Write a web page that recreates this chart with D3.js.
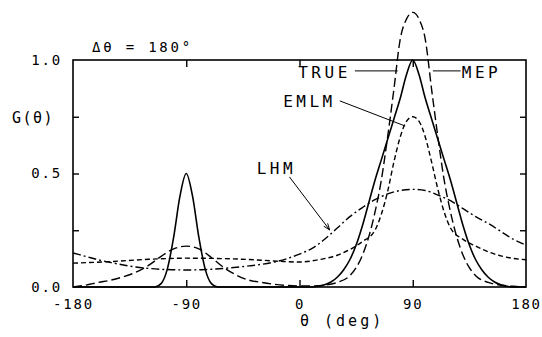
<!DOCTYPE html>
<html><head><meta charset="utf-8">
<script src="https://cdn.jsdelivr.net/npm/d3@7/dist/d3.min.js"></script>
<style>body{margin:0;background:#fff;}svg{display:block;}</style>
</head><body>
<svg id="chart" width="542" height="337"></svg>
<script>
// ---- data ----
const trueTheta = [-180,-115,-110,-105,-100,-95,-90,-85,-80,-75,-70,-65,10,15,20,25,30,35,40,45,50,55,60,65,70,75,80,85,90,95,100,105,110,115,120,125,130,135,140,145,150,155,160,165,170,180];
const trueG     = [0,0,0.015,0.08,0.22,0.4,0.5,0.4,0.22,0.08,0.015,0,0,0.003,0.01,0.022,0.043,0.075,0.12,0.185,0.27,0.37,0.47,0.56,0.65,0.74,0.83,0.935,1.0,0.935,0.83,0.74,0.65,0.56,0.47,0.37,0.27,0.185,0.12,0.075,0.043,0.022,0.01,0.003,0,0];

const mepTheta = [-180,-170,-160,-150,-140,-130,-120,-110,-100,-90,-80,-70,-60,-50,-40,-30,-20,-10,0,10,20,30,40,45,50,55,60,65,70,75,80,85,90,95,100,105,110,115,120,125,130,135,140,150,160,170,180];
const mepG     = [0,0.008,0.02,0.03,0.045,0.065,0.095,0.135,0.168,0.18,0.168,0.13,0.085,0.052,0.03,0.02,0.012,0.007,0.005,0.005,0.008,0.02,0.05,0.085,0.14,0.22,0.33,0.47,0.66,0.87,1.09,1.18,1.21,1.18,1.09,0.87,0.66,0.47,0.33,0.22,0.14,0.085,0.05,0.02,0.008,0.003,0];

const emlmTheta = [-180,-150,-120,-90,-60,-30,-15,0,15,30,40,50,60,65,70,75,80,85,90,95,100,105,110,115,120,130,140,150,160,170,180];
const emlmG     = [0.105,0.112,0.122,0.127,0.125,0.118,0.113,0.11,0.12,0.14,0.165,0.2,0.25,0.32,0.42,0.55,0.66,0.73,0.75,0.73,0.66,0.55,0.43,0.33,0.26,0.21,0.18,0.155,0.137,0.126,0.12];

const lhmTheta = [-180,-170,-160,-150,-140,-130,-120,-110,-100,-90,-80,-70,-60,-50,-40,-30,-20,-10,0,10,20,30,40,50,60,70,80,90,100,110,120,130,140,150,160,170,180];
const lhmG     = [0.15,0.135,0.12,0.108,0.097,0.088,0.082,0.078,0.076,0.075,0.076,0.078,0.082,0.087,0.093,0.1,0.11,0.125,0.145,0.17,0.21,0.26,0.31,0.35,0.385,0.41,0.425,0.43,0.425,0.405,0.38,0.345,0.31,0.28,0.245,0.21,0.185];

const xTicks = [-180,-90,0,90,180];
const yTicks = [0,0.25,0.5,0.75,1.0];
const yTickLabels = ["0.0","","0.5","","1.0"];

// annotation anchor points in data units: [theta, G]
const annTRUE = {text:"TRUE", at:[-1,0.92], from:[44,0.952], to:[78,0.952]};
const annMEP  = {text:"MEP",  at:[129,0.92], from:[128,0.952], to:[106,0.952]};
const annEMLM = {text:"EMLM", at:[-13,0.795], from:[32,0.82], to:[84,0.709]};
const annLHM  = {text:"LHM",  at:[-34,0.5], from:[-8,0.485], to:[24,0.251]};

// ---- drawing ----
const svg = d3.select("#chart");
const L=73, R=526, T=60, B=287;
const x = d3.scaleLinear().domain([-180,180]).range([L,R]);
const y = d3.scaleLinear().domain([0,1]).range([B,T]);
const mono = "'DejaVu Sans Mono', 'Liberation Mono', monospace";

svg.append("rect").attr("width",542).attr("height",337).attr("fill","#fff");

// frame
svg.append("rect").attr("x",L).attr("y",T).attr("width",R-L).attr("height",B-T)
  .attr("fill","none").attr("stroke","#000").attr("stroke-width",1.6);

function styleAxis(g){
  g.select(".domain").remove();
  g.selectAll(".tick line").attr("stroke","#000").attr("stroke-width",1.4);
  g.selectAll("text").attr("fill","#000").attr("font-family",mono).attr("font-size",14).attr("letter-spacing",1.8);
}

svg.append("g").attr("transform",`translate(0,${B})`)
  .call(d3.axisBottom(x).tickValues(xTicks).tickSizeInner(-7).tickSizeOuter(0).tickPadding(12).tickFormat(d=>String(d)))
  .call(styleAxis)
  .call(g=>g.selectAll(".tick").filter(d=>d===-180||d===180).select("line").remove());

svg.append("g").attr("transform",`translate(0,${T})`)
  .call(d3.axisTop(x).tickValues([-90,0,90]).tickSizeInner(-7).tickSizeOuter(0).tickFormat(""))
  .call(styleAxis);

svg.append("g").attr("transform",`translate(${L},0)`)
  .call(d3.axisLeft(y).tickValues(yTicks).tickSizeInner(-6).tickSizeOuter(0).tickPadding(11)
    .tickFormat((d,i)=>yTickLabels[i]))
  .call(styleAxis)
  .call(g=>g.selectAll(".tick").filter(d=>d===0||d===1).select("line").remove());

svg.append("g").attr("transform",`translate(${R},0)`)
  .call(d3.axisRight(y).tickValues([0.25,0.5,0.75]).tickSizeInner(-6).tickSizeOuter(0).tickFormat(""))
  .call(styleAxis);

// axis titles
svg.append("text").attr("x",12).attr("y",123).attr("font-family",mono).attr("font-size",15)
  .attr("letter-spacing",1.5).text("G(θ)");
svg.append("text").attr("x",300).attr("y",326).attr("font-family",mono).attr("font-size",15)
  .attr("letter-spacing",3).text("θ (deg)");
svg.append("text").attr("x",92).attr("y",52).attr("font-family",mono).attr("font-size",14)
  .attr("letter-spacing",2.8).text("Δθ = 180°");

// curves
const line = d3.line().x(d=>x(d[0])).y(d=>y(d[1])).curve(d3.curveMonotoneX);
const series = [
  {th:trueTheta, g:trueG, dash:null, w:1.6},
  {th:mepTheta,  g:mepG,  dash:"9,4", w:1.4},
  {th:emlmTheta, g:emlmG, dash:"5,3", w:1.4},
  {th:lhmTheta,  g:lhmG,  dash:"8,3,2,3", w:1.4}
];
series.forEach(s=>{
  svg.append("path").datum(d3.zip(s.th,s.g)).attr("d",line)
    .attr("fill","none").attr("stroke","#000").attr("stroke-width",s.w)
    .attr("stroke-dasharray",s.dash);
});

// annotations
[annTRUE,annMEP,annEMLM,annLHM].forEach((a,i)=>{
  svg.append("text").attr("x",x(a.at[0])).attr("y",y(a.at[1]))
    .attr("font-family",mono).attr("font-size",16).attr("letter-spacing",3.5).text(a.text);
  svg.append("line").attr("x1",x(a.from[0])).attr("y1",y(a.from[1]))
    .attr("x2",x(a.to[0])).attr("y2",y(a.to[1])).attr("stroke","#000").attr("stroke-width",1);
});
// arrowhead for LHM leader
{
  const x1=x(annLHM.from[0]), y1=y(annLHM.from[1]), x2=x(annLHM.to[0]), y2=y(annLHM.to[1]);
  const ang=Math.atan2(y2-y1,x2-x1), len=7;
  const p = [[x2,y2],[x2-len*Math.cos(ang-0.35),y2-len*Math.sin(ang-0.35)],[x2-len*Math.cos(ang+0.35),y2-len*Math.sin(ang+0.35)]];
  svg.append("path").attr("d",`M${p[1]}L${p[0]}L${p[2]}`).attr("fill","none").attr("stroke","#000").attr("stroke-width",1);
}
</script>
</body></html>
